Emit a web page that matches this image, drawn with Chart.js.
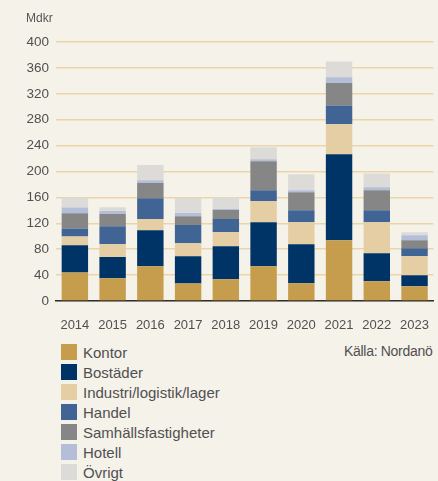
<!DOCTYPE html>
<html>
<head>
<meta charset="utf-8">
<script src="https://cdn.jsdelivr.net/npm/chart.js@4"></script>
<style>
    html, body { margin: 0; padding: 0; background: #f5f2ea; }
    body { width: 438px; height: 481px; position: relative; overflow: hidden; font-family: 'Liberation Sans', Arial, sans-serif; color: #505050; }
    #wrap { position: absolute; left: 0; top: 0; width: 438px; height: 330px; }
    #unit { position: absolute; left: 26px; top: 11px; font-size: 12px; color: #555; }
    #legend { position: absolute; left: 61px; top: 342px; }
    .row { display: flex; align-items: center; height: 20px; font-size: 15px; color: #505050; }
    .sw { width: 16px; height: 16px; margin-right: 6px; flex: none; }
    #source { position: absolute; left: 344px; top: 343px; font-size: 14px; color: #505050; white-space: nowrap; letter-spacing: -0.3px; }
</style>
</head>
<body>
<div id="wrap"><canvas id="chart"></canvas></div>
<div id="unit">Mdkr</div>
<div id="legend"></div>
<div id="source">Källa: Nordanö</div>

<script>
// ==========================================
// DATA (Mdkr per år)
// ==========================================
const years = ['2014', '2015', '2016', '2017', '2018', '2019', '2020', '2021', '2022', '2023'];

const kontor       = [44, 35, 53.6, 27, 33.5, 53.6, 27.3, 93.7, 30.4, 22.7];
const bostader     = [42, 33, 55.5, 42, 51, 68, 60.3, 132.8, 43.3, 17];
const industri     = [13.5, 19.5, 17.5, 20, 21.5, 32.5, 34, 46.5, 47.8, 29.3];
const handel       = [12.5, 28, 32, 28.5, 20.5, 17, 18.5, 29, 18.5, 12.4];
const samhall      = [23.5, 19, 23.7, 13.5, 14, 44.7, 28, 34.5, 31, 12.3];
const hotell       = [9, 4.5, 4, 5, 1.5, 3, 3, 9, 4.6, 7.8];
const ovrigt       = [15, 5.7, 23.7, 23, 17.7, 18.6, 24.7, 24.5, 21.4, 4.5];

const seriesNames  = ['Kontor', 'Bostäder', 'Industri/logistik/lager', 'Handel', 'Samhällsfastigheter', 'Hotell', 'Övrigt'];
const seriesValues = [kontor, bostader, industri, handel, samhall, hotell, ovrigt];
const seriesColors = ['#c59d4d', '#013466', '#e5cea4', '#406493', '#868686', '#b5bed9', '#dcdbd8'];

const yTicks = [0, 40, 80, 120, 160, 200, 240, 280, 320, 360, 400];

// ==========================================
// CHART
// ==========================================
const fontFamily = "'Liberation Sans', Arial, sans-serif";

new Chart(document.getElementById('chart'), {
    type: 'bar',
    data: {
        labels: years,
        datasets: seriesNames.map(function(name, i) {
            return {
                label: name,
                data: seriesValues[i],
                backgroundColor: seriesColors[i],
                borderWidth: 0,
                categoryPercentage: 1,
                barPercentage: 0.7
            };
        })
    },
    options: {
        responsive: true,
        maintainAspectRatio: false,
        animation: false,
        layout: { padding: { top: 42, left: 0, right: 0, bottom: 0 } },
        plugins: {
            legend: { display: false },
            tooltip: { enabled: false }
        },
        scales: {
            x: {
                stacked: true,
                grid: { display: false },
                border: { display: true, color: '#2e2e2e', width: 1.5 },
                ticks: { color: '#505050', font: { family: fontFamily, size: 13 }, padding: 9, maxRotation: 0 },
                afterFit: function(scale) { scale.height = 29; }
            },
            y: {
                stacked: true,
                min: 0,
                max: 400,
                afterBuildTicks: function(scale) {
                    scale.ticks = yTicks.map(function(v) { return { value: v }; });
                },
                grid: { color: '#ebd5a8', lineWidth: 1.5, drawTicks: false },
                border: { display: false },
                ticks: { color: '#505050', font: { family: fontFamily, size: 13.5 }, padding: 7 },
                afterFit: function(scale) { scale.width = 56; }
            }
        }
    }
});

// legend (one column, under the chart)
const legendEl = document.getElementById('legend');
seriesNames.forEach(function(name, i) {
    const row = document.createElement('div');
    row.className = 'row';
    row.innerHTML = '<span class="sw" style="background:' + seriesColors[i] + '"></span>' + name;
    legendEl.appendChild(row);
});
</script>
</body>
</html>
